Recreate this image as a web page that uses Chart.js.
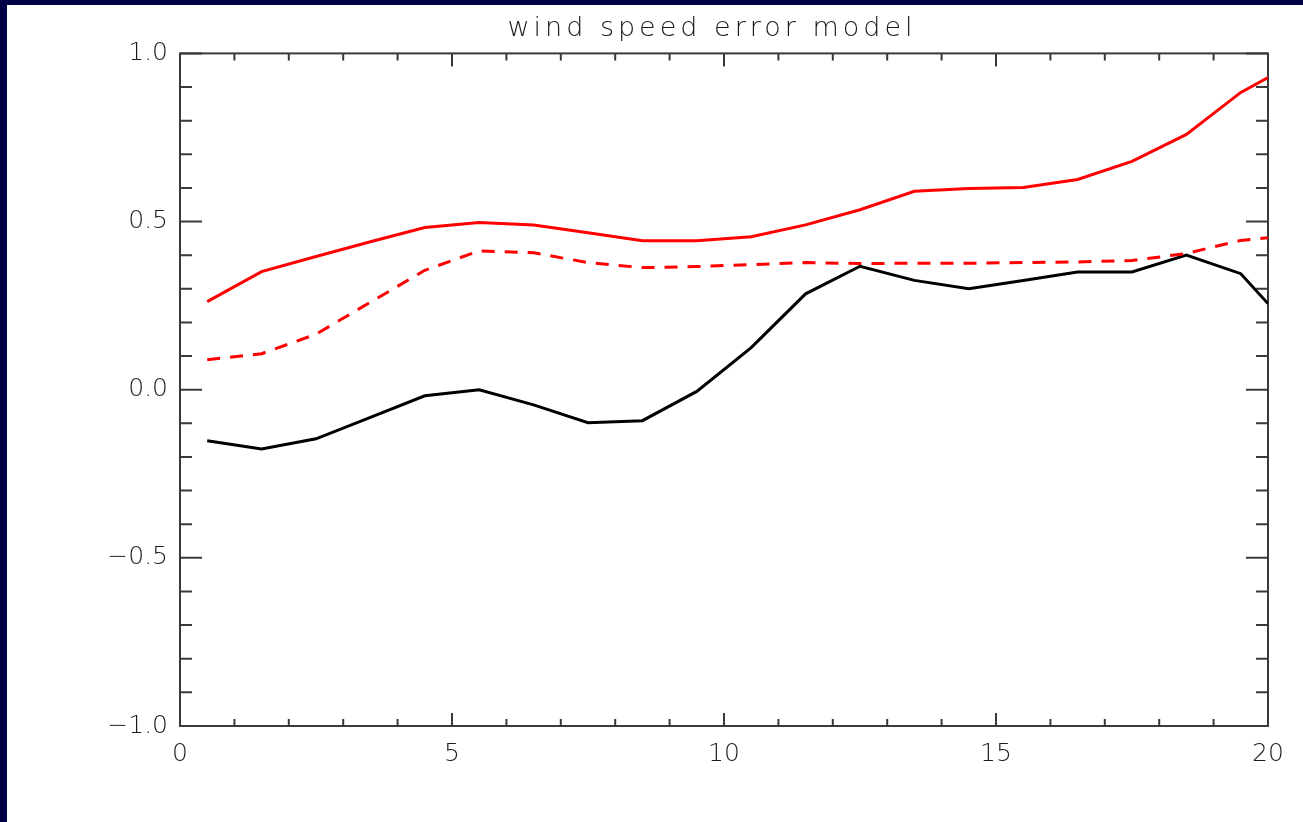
<!DOCTYPE html>
<html><head><meta charset="utf-8">
<script src="https://cdn.jsdelivr.net/npm/chart.js@4.4.1/dist/chart.umd.min.js"></script>
<style>
html,body{margin:0;padding:0;background:#000046;width:1303px;height:822px;overflow:hidden}
#wrap{position:absolute;left:7px;top:5px;width:1296px;height:817px;background:#ffffff}
canvas{display:block}
</style></head><body>
<div id="wrap"><canvas id="c" width="1296" height="817"></canvas></div>
<script>
const chartTitle = 'wind speed error model';
const xValues = [0.5, 1.5, 2.5, 3.5, 4.5, 5.5, 6.5, 7.5, 8.5, 9.5, 10.5, 11.5, 12.5, 13.5, 14.5, 15.5, 16.5, 17.5, 18.5, 19.5, 20];
const blackSolid = [-0.152, -0.176, -0.146, -0.082, -0.018, 0.0, -0.045, -0.098, -0.092, -0.005, 0.125, 0.285, 0.367, 0.325, 0.300, 0.325, 0.350, 0.350, 0.400, 0.345, 0.256];
const redSolid = [0.262, 0.351, 0.396, 0.440, 0.482, 0.497, 0.490, 0.467, 0.443, 0.443, 0.455, 0.490, 0.535, 0.590, 0.598, 0.601, 0.625, 0.679, 0.759, 0.884, 0.928];
const redDashed = [0.089, 0.107, 0.165, 0.260, 0.355, 0.413, 0.407, 0.378, 0.363, 0.366, 0.372, 0.378, 0.375, 0.376, 0.376, 0.378, 0.380, 0.384, 0.405, 0.444, 0.452];
const xTickValues = [0, 5, 10, 15, 20];
const xTickLabels = ['0', '5', '10', '15', '20'];
const yTickValues = [-1, -0.5, 0, 0.5, 1];
const yTickLabels = ['\u22121.0', '\u22120.5', '0.0', '0.5', '1.0'];

const toPoints = arr => xValues.map((x, i) => ({x: x, y: arr[i]}));

const AXIS_COLOR = '#3a3a3a';
const TEXT_COLOR = '#1a1a1a';

const framePlugin = {
  id: 'idlFrame',
  beforeDatasetsDraw(chart) {
    const ctx = chart.ctx, a = chart.chartArea, xs = chart.scales.x, ys = chart.scales.y;
    ctx.save();
    ctx.strokeStyle = AXIS_COLOR;
    ctx.lineWidth = 2;
    ctx.strokeRect(a.left, a.top, a.right - a.left, a.bottom - a.top);
    ctx.beginPath();
    for (let v = xs.min; v <= xs.max; v++) {
      const px = xs.getPixelForValue(v);
      const len = (v % 5 === 0) ? 13 : 7;
      ctx.moveTo(px, a.bottom); ctx.lineTo(px, a.bottom - len);
      ctx.moveTo(px, a.top); ctx.lineTo(px, a.top + len);
    }
    for (let k = -10; k <= 10; k++) {
      const py = ys.getPixelForValue(k / 10);
      const len = (k % 5 === 0) ? 22 : 12;
      ctx.moveTo(a.left, py); ctx.lineTo(a.left + len, py);
      ctx.moveTo(a.right, py); ctx.lineTo(a.right - len, py);
    }
    ctx.stroke();
    ctx.restore();
  }
};

const titleSpacing = {
  id: 'titleSpacing',
  beforeDraw(chart) {
    const tb = chart.titleBlock;
    if (tb && !tb._spaced) {
      const orig = tb.draw.bind(tb);
      tb.draw = function () {
        const ctx = chart.ctx;
        ctx.save();
        ctx.letterSpacing = '4px';
        ctx.translate(-12, 0);
        orig();
        ctx.restore();
      };
      tb._spaced = true;
    }
  }
};

Chart.defaults.font.family = "'DejaVu Sans', 'Liberation Sans', sans-serif";
Chart.defaults.color = TEXT_COLOR;

new Chart(document.getElementById('c'), {
  type: 'line',
  data: {
    datasets: [
      {label: 'red solid', data: toPoints(redSolid), borderColor: '#ff0000', borderWidth: 3, pointRadius: 0, tension: 0, fill: false},
      {label: 'red dashed', data: toPoints(redDashed), borderColor: '#ff0000', borderWidth: 3, borderDash: [13, 10], pointRadius: 0, tension: 0, fill: false},
      {label: 'black', data: toPoints(blackSolid), borderColor: '#000000', borderWidth: 3, pointRadius: 0, tension: 0, fill: false}
    ]
  },
  options: {
    responsive: false,
    animation: false,
    events: [],
    layout: {padding: {top: 0, right: 35, bottom: 0, left: 0}},
    plugins: {
      legend: {display: false},
      tooltip: {enabled: false},
      title: {
        display: true,
        text: chartTitle,
        fullSize: false,
        color: TEXT_COLOR,
        font: {size: 27, weight: 200},
        padding: {top: 8, bottom: 8}
      }
    },
    scales: {
      x: {
        type: 'linear',
        min: 0, max: 20,
        grid: {display: false, drawTicks: false},
        border: {display: false},
        afterBuildTicks: s => { s.ticks = xTickValues.map(v => ({value: v})); },
        afterFit: s => { s.height = 96; },
        ticks: {
          padding: 13,
          maxRotation: 0,
          autoSkip: false,
          font: {size: 25, weight: 200},
          color: TEXT_COLOR,
          callback: (v, i) => xTickLabels[i]
        }
      },
      y: {
        type: 'linear',
        min: -1, max: 1,
        grid: {display: false, drawTicks: false},
        border: {display: false},
        afterBuildTicks: s => { s.ticks = yTickValues.map(v => ({value: v})); },
        afterFit: s => { s.width = 173; },
        ticks: {
          padding: 12,
          autoSkip: false,
          font: {size: 25, weight: 200},
          color: TEXT_COLOR,
          callback: (v, i) => yTickLabels[i]
        }
      }
    }
  },
  plugins: [framePlugin, titleSpacing]
});
</script>
</body></html>
